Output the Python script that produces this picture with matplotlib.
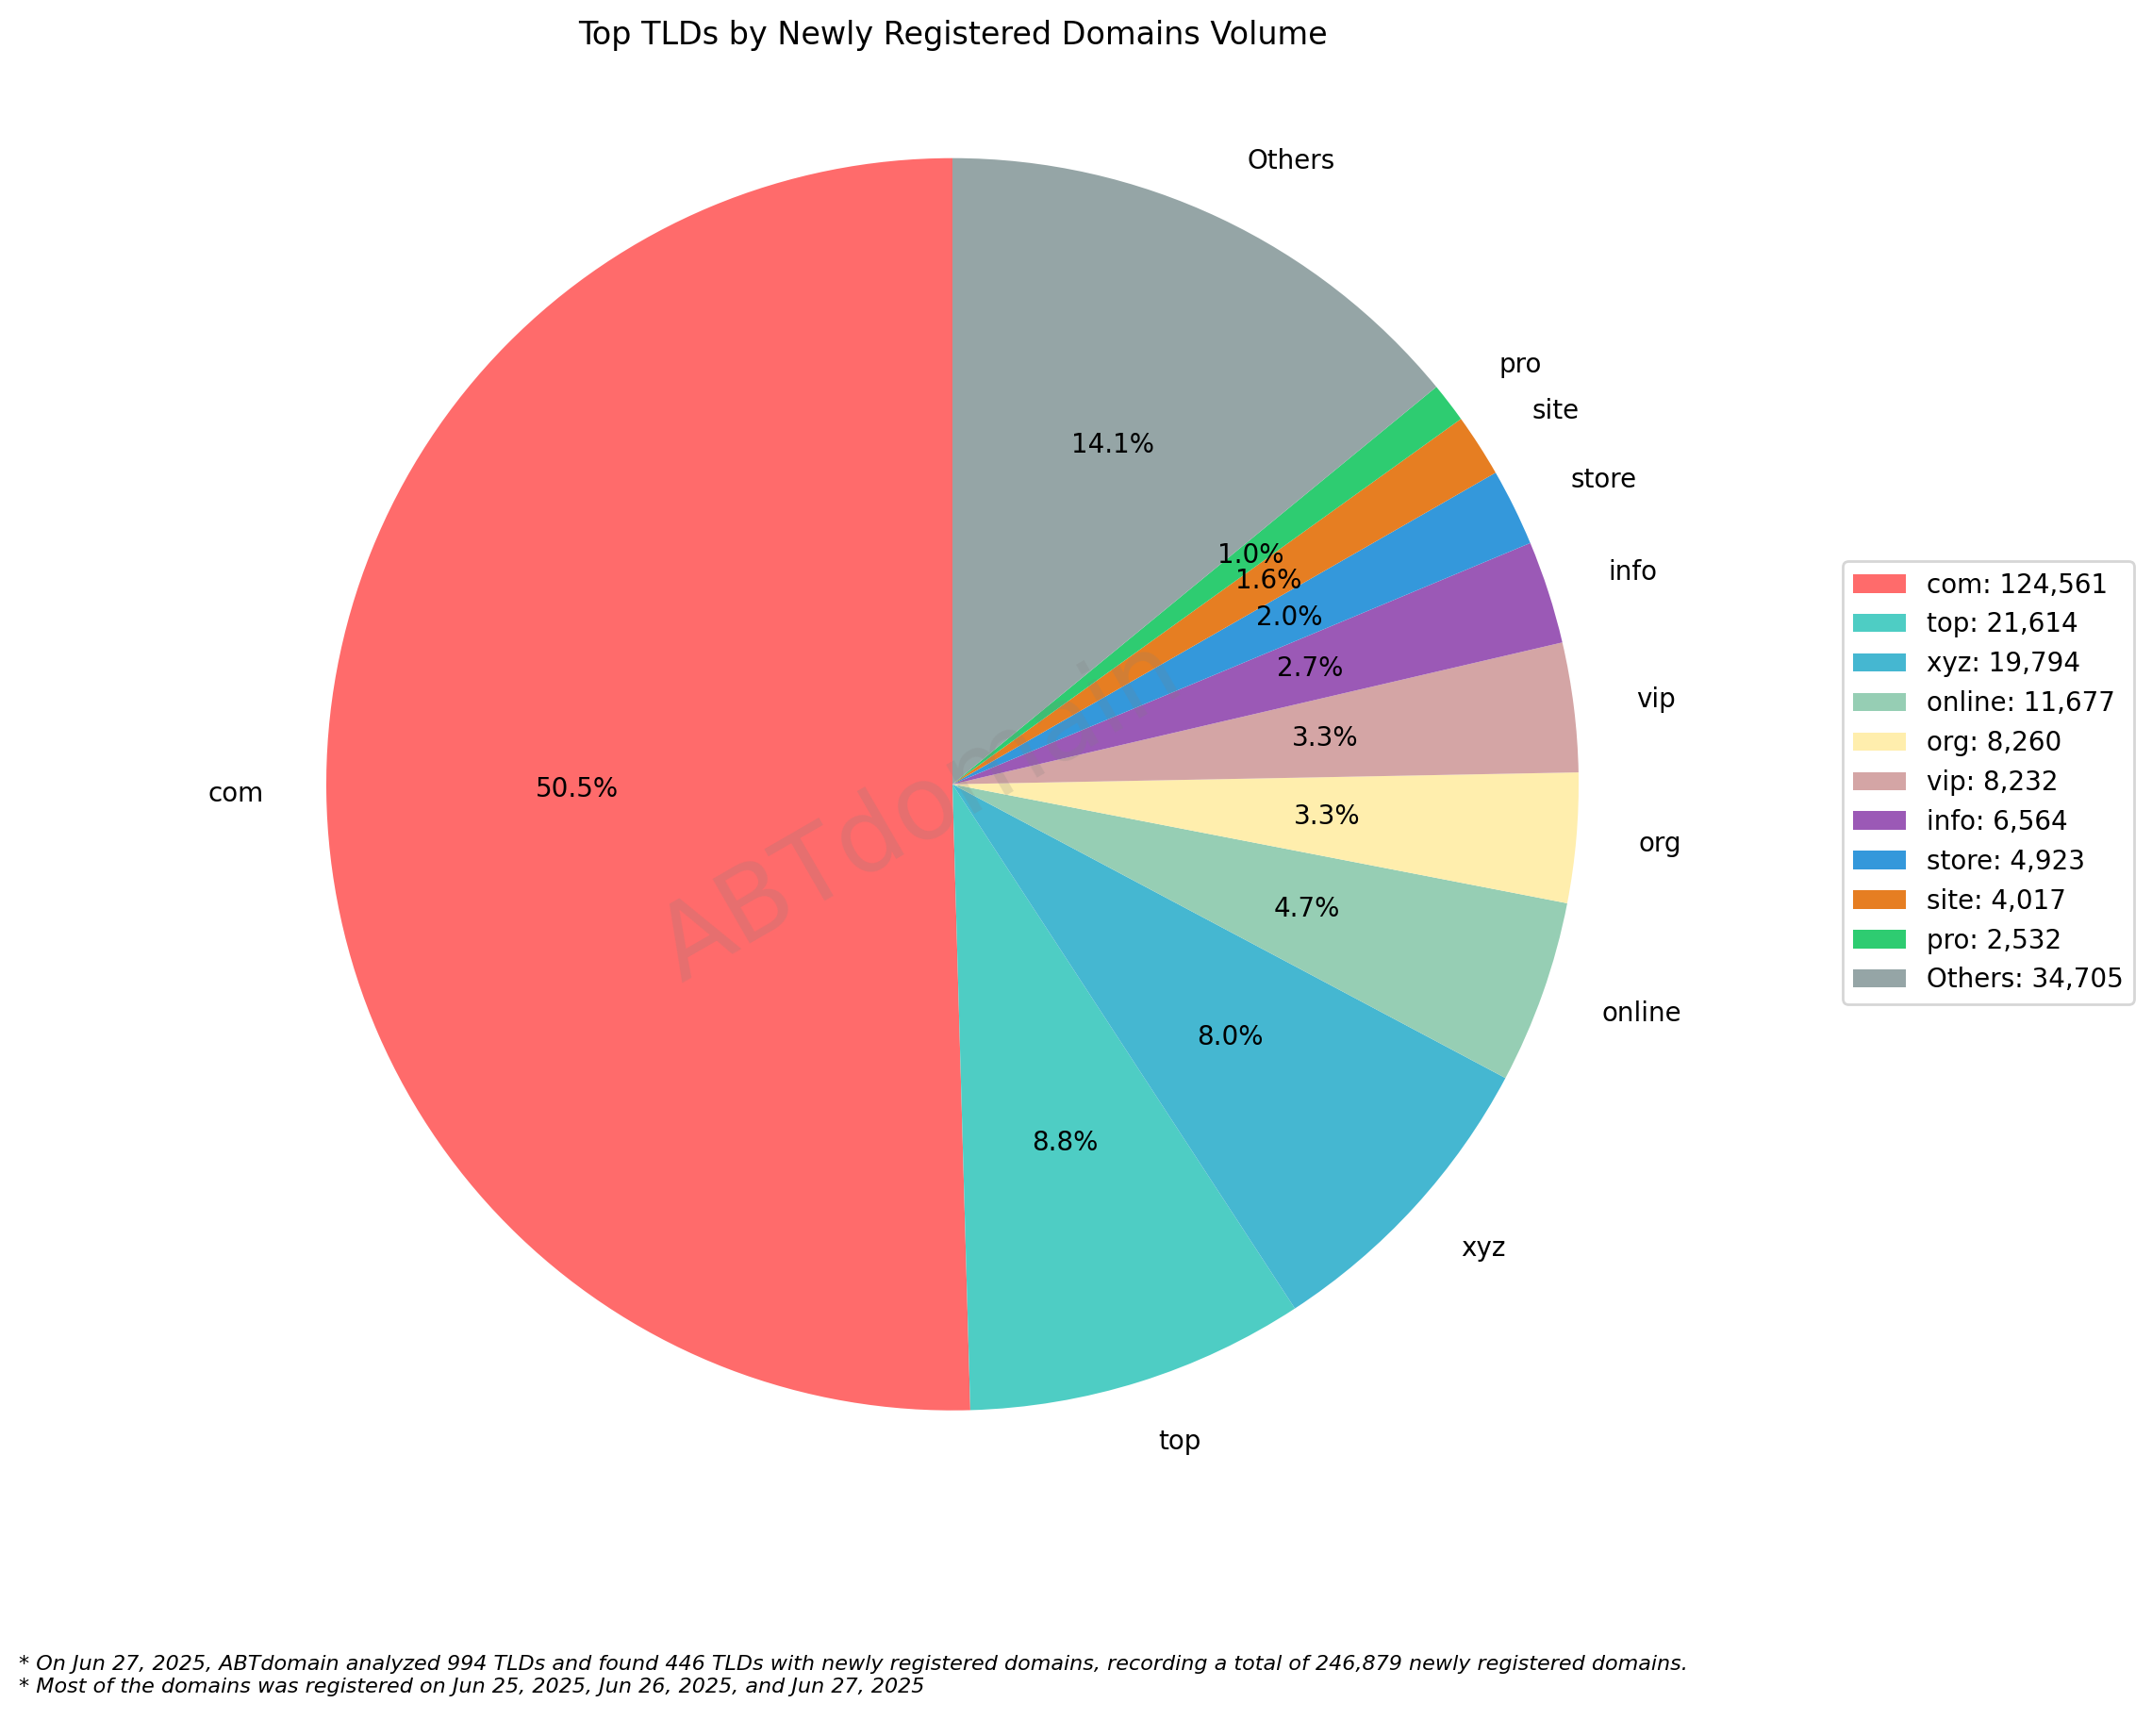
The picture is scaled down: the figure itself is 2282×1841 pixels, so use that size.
import matplotlib
matplotlib.use("Agg")
import matplotlib.pyplot as plt

labels = ["com", "top", "xyz", "online", "org", "vip", "info", "store", "site", "pro", "Others"]
values = [124561, 21614, 19794, 11677, 8260, 8232, 6564, 4923, 4017, 2532, 34705]
colors = ["#FF6B6B", "#4ECDC4", "#45B7D1", "#96CEB4", "#FFEEAD", "#D4A5A5",
          "#9B59B6", "#3498DB", "#E67E22", "#2ECC71", "#95A5A6"]
title = "Top TLDs by Newly Registered Domains Volume"
notes = ("* On Jun 27, 2025, ABTdomain analyzed 994 TLDs and found 446 TLDs with newly registered domains, "
         "recording a total of 246,879 newly registered domains.\n"
         "* Most of the domains was registered on Jun 25, 2025, Jun 26, 2025, and Jun 27, 2025")

W, H = 2282, 1841
DPI = 200
fig = plt.figure(figsize=(W / DPI, H / DPI), dpi=DPI)
ax = fig.add_axes([0, 0, 1, 1])
wedges, _, _ = ax.pie(values, labels=labels, colors=colors, autopct="%1.1f%%", startangle=90,
                      radius=1, textprops={"fontsize": 10})
ax.set_aspect("equal")
r = 664.0
cx, cy = 1010.0, 831.7
ax.set_xlim(-cx / r, (W - cx) / r)
ax.set_ylim(-(H - cy) / r, cy / r)
fig.text(1010 / W, 1 - 37 / H, title, ha="center", va="center", fontsize=12)
ax.legend(wedges, [f"{l}: {v:,}" for l, v in zip(labels, values)], loc="center left",
          bbox_to_anchor=(1954 / W, 1 - 830 / H), bbox_transform=fig.transFigure,
          borderaxespad=0, fontsize=10)
fig.text(976 / W, 1 - 861 / H, "ABTdomain", fontsize=39, color="gray", alpha=0.2, rotation=30,
         ha="center", va="center", rotation_mode="anchor")
fig.text(20 / W, 1 - 1777 / H, notes, ha="left", va="center", fontsize=8, style="italic")
fig.savefig("out.png", dpi=DPI)
